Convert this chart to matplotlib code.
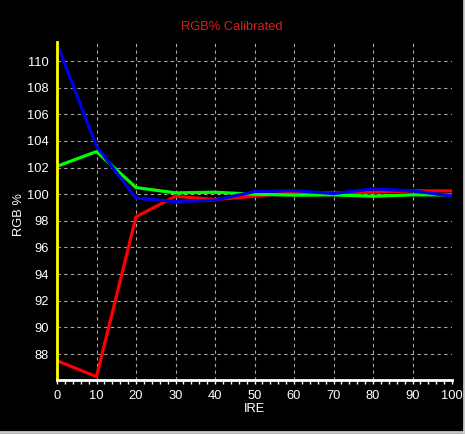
import matplotlib.pyplot as plt
import numpy as np
from matplotlib.ticker import MultipleLocator

ire = [0, 10, 20, 30, 40, 50, 60, 70, 80, 90, 100]
red = [87.5, 86.3, 98.3, 99.85, 99.6, 99.85, 100.12, 100.1, 100.15, 100.25, 100.25]
green = [102.1, 103.2, 100.5, 100.1, 100.15, 100.0, 99.93, 99.95, 99.85, 99.95, 99.95]
blue = [111.3, 103.6, 99.7, 99.45, 99.55, 100.2, 100.27, 100.05, 100.4, 100.25, 99.87]
yticks = np.arange(88, 111, 2)
xticks = np.arange(0, 101, 10)

plt.rcParams['font.family'] = ['Liberation Sans', 'DejaVu Sans']
fig = plt.figure(figsize=(4.65, 4.34), dpi=100, facecolor='black')
ax = fig.add_axes([57/465, 1-380/434, 395/465, 338/434], facecolor='black')

ax.plot(ire, red, color='#ff0000', lw=2.3, solid_joinstyle='miter')
ax.plot(ire, green, color='#00ff00', lw=2.3, solid_joinstyle='miter')
ax.plot(ire, blue, color='#0000e6', lw=2.3, solid_joinstyle='miter')

ax.set_xlim(0, 100)
ax.set_ylim(86.05, 111.43)
ax.set_xticks(xticks)
ax.set_yticks(yticks)
ax.xaxis.set_minor_locator(MultipleLocator(2))
ax.tick_params(axis='x', which='both', colors='white', labelsize=9.3, length=3, width=1, direction='out', pad=4)
ax.tick_params(axis='y', colors='white', labelsize=9.3, length=0, pad=6)

ax.grid(True, color='#a8a8a8', linestyle=(0, (3, 3)), lw=0.8)
ax.xaxis.get_gridlines()[-1].set_visible(False)
ax.xaxis.get_gridlines()[0].set_visible(False)

for s in ['top', 'right']:
    ax.spines[s].set_visible(False)
ax.spines['left'].set_color('#ffff00')
ax.spines['left'].set_linewidth(2)
ax.spines['bottom'].set_color('white')
ax.spines['bottom'].set_linewidth(2)

ax.set_xlabel('IRE', color='white', fontsize=9.3, labelpad=1)
ax.set_ylabel('RGB %', color='white', fontsize=9.3)
ax.yaxis.set_label_coords(-0.081, 0.49)
fig.text(232/465, 1-27/434, 'RGB% Calibrated', color='#d42020', fontsize=9.3, ha='center', va='center')

# window border on right and bottom
fig.add_artist(plt.Line2D([1-1/465, 1-1/465], [0, 1], color='#c8c8c8', lw=2, transform=fig.transFigure))
fig.add_artist(plt.Line2D([0, 1], [2/434, 2/434], color='#c8c8c8', lw=2, transform=fig.transFigure))

fig.savefig('out.png', dpi=100, facecolor='black')
